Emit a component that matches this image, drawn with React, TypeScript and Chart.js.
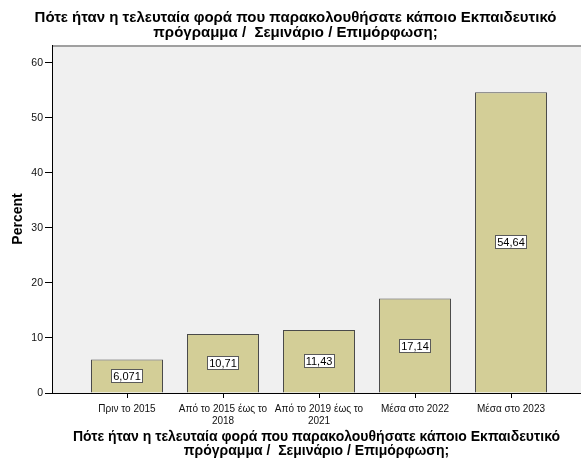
import React, { useEffect, useRef } from "react";
import { Chart, registerables } from "chart.js";

Chart.register(...registerables);

const titleLines = [
  "Πότε ήταν η τελευταία φορά που παρακολουθήσατε κάποιο Εκπαιδευτικό",
  "πρόγραμμα /  Σεμινάριο / Επιμόρφωση;",
];
const categoryLines: string[][] = [
  ["Πριν το 2015"],
  ["Από το 2015 έως το", "2018"],
  ["Από το 2019 έως το", "2021"],
  ["Μέσα στο 2022"],
  ["Μέσα στο 2023"],
];
const percentValues = [6.071, 10.71, 11.43, 17.14, 54.64];
const yTicks = [0, 10, 20, 30, 40, 50, 60];
const yAxisTitle = "Percent";

const FONT = "'Liberation Sans', Arial, sans-serif";

const plotBgPlugin = {
  id: "plotBg",
  beforeDraw(chart: any) {
    const { ctx, chartArea } = chart;
    ctx.save();
    ctx.fillStyle = "#F0F0F0";
    ctx.fillRect(chartArea.left, chartArea.top, chartArea.right - chartArea.left, chartArea.bottom - chartArea.top);
    ctx.fillStyle = "#A0A0A0";
    ctx.fillRect(chartArea.left, chartArea.top, chartArea.right - chartArea.left, 2);
    ctx.restore();
  },
};

const valueLabelPlugin = {
  id: "valueLabels",
  afterDatasetsDraw(chart: any) {
    const { ctx } = chart;
    const meta = chart.getDatasetMeta(0);
    ctx.save();
    ctx.font = `11px ${FONT}`;
    ctx.textAlign = "center";
    ctx.textBaseline = "middle";
    meta.data.forEach((bar: any, i: number) => {
      const text = String(percentValues[i]).replace(".", ",");
      const cx = bar.x;
      const cy = Math.round((bar.y + bar.base) / 2);
      const w = Math.ceil(ctx.measureText(text).width) + 4;
      const h = 14;
      const x0 = Math.round(cx - w / 2);
      const y0 = Math.round(cy - h / 2);
      ctx.fillStyle = "#FFFFFF";
      ctx.fillRect(x0, y0, w, h);
      ctx.strokeStyle = "#5a5a5a";
      ctx.lineWidth = 1;
      ctx.strokeRect(x0 + 0.5, y0 + 0.5, w - 1, h - 1);
      ctx.fillStyle = "#000000";
      ctx.fillText(text, cx, cy + 0.5);
    });
    ctx.restore();
  },
};

export default function App() {
  const canvasRef = useRef<HTMLCanvasElement | null>(null);

  useEffect(() => {
    const canvas = canvasRef.current;
    if (!canvas) return;
    const chart = new Chart(canvas, {
      type: "bar",
      data: {
        datasets: [
          {
            data: percentValues.map((v, i) => ({ x: i, y: v })),
            backgroundColor: "#D3CE97",
            borderColor: "#4a4a4a",
            borderWidth: 1,
            barPercentage: 0.75,
            categoryPercentage: 1,
          },
        ],
      },
      options: {
        responsive: false,
        animation: false,
        maintainAspectRatio: false,
        layout: { padding: { left: 10, right: 0, top: 0, bottom: 0 } },
        plugins: {
          legend: { display: false },
          tooltip: { enabled: false },
          title: {
            display: true,
            text: titleLines,
            color: "#000",
            font: { family: FONT, size: 15, weight: "bold", lineHeight: 1.0 },
            padding: { top: 10, bottom: 5 },
          },
        },
        scales: {
          x: {
            type: "linear",
            offset: false,
            min: -0.78125,
            max: 4.729,
            afterBuildTicks(scale: any) {
              scale.ticks = categoryLines.map((_, i) => ({ value: i }));
            },
            afterFit(scale: any) {
              scale.height = 68;
            },
            ticks: {
              autoSkip: false,
              maxRotation: 0,
              minRotation: 0,
              padding: 5,
              color: "#111",
              font: { family: FONT, size: 10, lineHeight: 1.2 },
              callback: (value: any) => categoryLines[Math.round(value)] ?? "",
            },
            grid: {
              offset: false,
              drawOnChartArea: false,
              drawTicks: true,
              tickLength: 5,
              tickColor: "#000",
              color: "#000",
            },
            border: { display: true, color: "#000", width: 1 },
            title: {
              display: true,
              text: titleLines,
              color: "#000",
              font: { family: FONT, size: 14, weight: "bold", lineHeight: 1.0 },
              padding: { top: 0, bottom: 3 },
            },
          },
          y: {
            type: "linear",
            min: 0,
            max: 63.2,
            afterBuildTicks(scale: any) {
              scale.ticks = yTicks.map((v) => ({ value: v }));
            },
            afterFit(scale: any) {
              scale.width = 42;
            },
            ticks: {
              padding: 2,
              color: "#111",
              font: { family: FONT, size: 10.5 },
            },
            grid: {
              drawOnChartArea: false,
              drawTicks: true,
              tickLength: 7,
              tickColor: "#000",
              color: "#000",
            },
            border: { display: true, color: "#000", width: 1 },
            title: {
              display: true,
              text: yAxisTitle,
              color: "#000",
              font: { family: FONT, size: 14, weight: "bold", lineHeight: 1.2 },
              padding: { top: 0, bottom: 0 },
            },
          },
        },
      },
      plugins: [plotBgPlugin, valueLabelPlugin],
    } as any);
    return () => chart.destroy();
  }, []);

  return (
    <div style={{ position: "absolute", left: 0, top: 0, width: 581, height: 461, background: "#fff" }}>
      <canvas ref={canvasRef} width={581} height={461} style={{ display: "block" }} />
    </div>
  );
}
